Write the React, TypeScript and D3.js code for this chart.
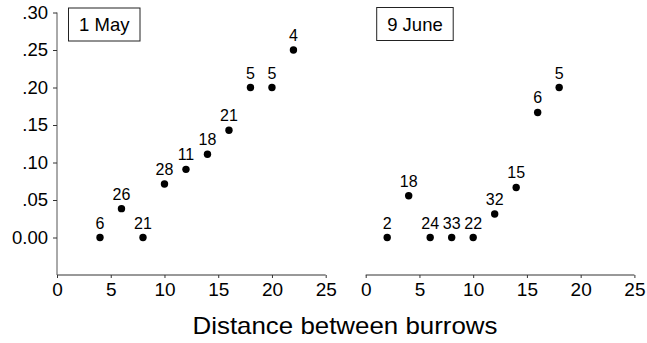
import React, { useEffect, useRef } from 'react';
import * as d3 from 'd3';

// distances (x) shared by the panels
const mayDistance = [4, 6, 8, 10, 12, 14, 16, 18, 20, 22];
const mayValue = [0, 0.0385, 0, 0.0714, 0.0909, 0.111, 0.143, 0.2, 0.2, 0.25];
const mayCount = [6, 26, 21, 28, 11, 18, 21, 5, 5, 4];

const juneDistance = [2, 4, 6, 8, 10, 12, 14, 16, 18];
const juneValue = [0, 0.0556, 0, 0, 0, 0.0313, 0.0667, 0.1667, 0.2];
const juneCount = [2, 18, 24, 33, 22, 32, 15, 6, 5];

const yTicks = [0, 0.05, 0.1, 0.15, 0.2, 0.25, 0.3];
const yTickLabels = ['0.00', '.05', '.10', '.15', '.20', '.25', '.30'];
const xTicks = [0, 5, 10, 15, 20, 25];

const panelTitles = ['1 May', '9 June'];
const axisTitle = 'Distance between burrows';

const FONT = 'Liberation Sans, Arial, Helvetica, sans-serif';

const App: React.FC = () => {
  const svgRef = useRef<SVGSVGElement | null>(null);

  useEffect(() => {
    if (!svgRef.current) return;
    const svg = d3.select(svgRef.current);
    svg.selectAll('*').remove();

    const width = 647;
    const height = 343;
    svg.attr('width', width).attr('height', height);

    const yScale = d3.scaleLinear().domain([-0.05, 0.3]).range([275, 12.5]);

    const panels = [
      { left: 57, dist: mayDistance, val: mayValue, n: mayCount, yAxis: true, box: [68.5, 8, 71.5, 33] },
      { left: 365.7, dist: juneDistance, val: juneValue, n: juneCount, yAxis: false, box: [376.7, 7.5, 76.5, 33] },
    ];

    panels.forEach((p, i) => {
      const xScale = d3.scaleLinear().domain([0, 25]).range([p.left, p.left + 268.7]);
      const g = svg.append('g');

      // x axis
      const xAxis = g
        .append('g')
        .attr('transform', `translate(0, ${yScale(-0.05)})`)
        .call(d3.axisBottom(xScale).tickValues(xTicks).tickSize(3).tickPadding(5).tickFormat(d3.format('d')));
      xAxis.select('.domain').attr('stroke', '#333').attr('d', `M${xScale(0)},0H${xScale(25)}`);
      xAxis.selectAll('line').attr('stroke', '#333');
      xAxis
        .selectAll('text')
        .attr('fill', '#000')
        .attr('font-family', FONT)
        .attr('font-size', 19);

      // y axis (left panel only)
      if (p.yAxis) {
        const yAxis = g
          .append('g')
          .attr('transform', `translate(${p.left}, 0)`)
          .call(
            d3
              .axisLeft(yScale)
              .tickValues(yTicks)
              .tickSize(4)
              .tickPadding(5)
              .tickFormat((d, k) => yTickLabels[k])
          );
        yAxis.select('.domain').attr('stroke', '#555').attr('d', `M0,${yScale(0.3)}V${yScale(-0.05)}`);
        yAxis.selectAll('line').attr('stroke', '#333');
        yAxis
          .selectAll('text')
          .attr('fill', '#000')
          .attr('font-family', FONT)
          .attr('font-size', 18.5);
      }

      // panel title box
      const [bx, by, bw, bh] = p.box;
      g.append('rect')
        .attr('x', bx)
        .attr('y', by)
        .attr('width', bw)
        .attr('height', bh)
        .attr('fill', 'white')
        .attr('stroke', '#222')
        .attr('stroke-width', 1);
      g.append('text')
        .attr('x', bx + bw / 2)
        .attr('y', by + bh / 2 + 6.5)
        .attr('text-anchor', 'middle')
        .attr('font-family', FONT)
        .attr('font-size', 18.5)
        .text(panelTitles[i]);

      // points
      const data = p.dist.map((d, k) => ({ x: d, y: p.val[k], n: p.n[k] }));
      g.selectAll('circle')
        .data(data)
        .enter()
        .append('circle')
        .attr('cx', (d) => xScale(d.x))
        .attr('cy', (d) => yScale(d.y))
        .attr('r', 3.7)
        .attr('fill', '#000');

      g.selectAll('text.count')
        .data(data)
        .enter()
        .append('text')
        .attr('class', 'count')
        .attr('x', (d) => xScale(d.x))
        .attr('y', (d) => yScale(d.y) - 9)
        .attr('text-anchor', 'middle')
        .attr('font-family', FONT)
        .attr('font-size', 16)
        .text((d) => d.n);
    });

    // shared x axis title
    svg
      .append('text')
      .attr('x', 345)
      .attr('y', 334)
      .attr('text-anchor', 'middle')
      .attr('font-family', FONT)
      .attr('font-size', 24)
      .attr('textLength', 305)
      .attr('lengthAdjust', 'spacingAndGlyphs')
      .text(axisTitle);
  }, []);

  return (
    <svg
      ref={svgRef}
      width={647}
      height={343}
      style={{ position: 'absolute', left: 0, top: 0, background: 'white' }}
    />
  );
};

export default App;
